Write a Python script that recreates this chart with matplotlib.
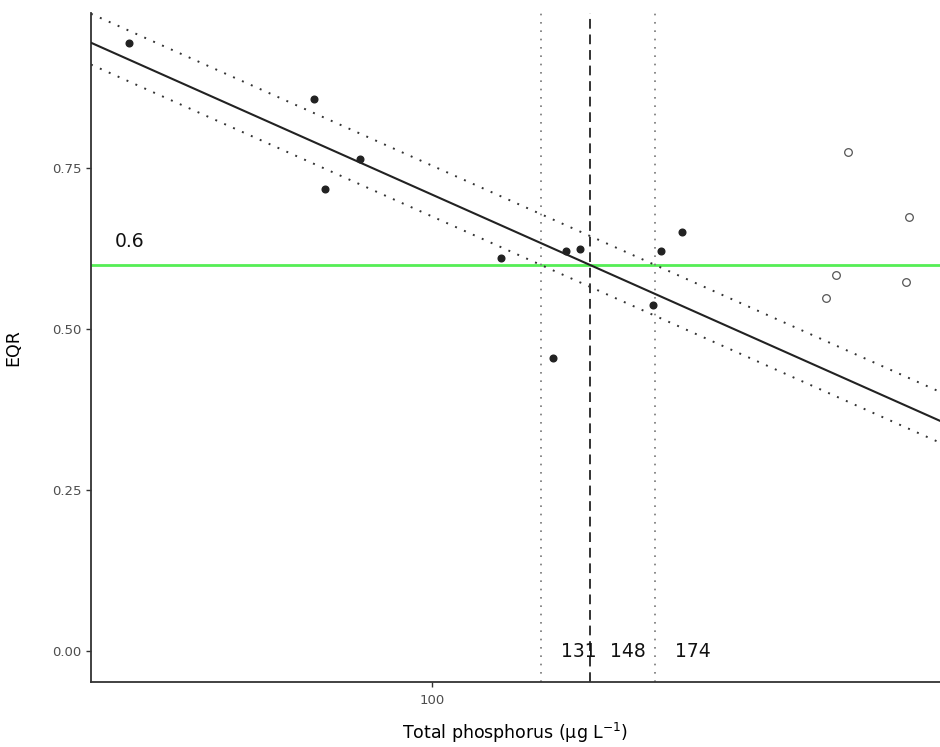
import numpy as np
import matplotlib
matplotlib.use('Agg')
import matplotlib.pyplot as plt

# Sites used in the fit (filled) and excluded sites (open)
tp_fit = [47.0, 74.6, 76.7, 83.5, 118.7, 135.1, 139.7, 144.4, 173.4, 176.7, 186.3]
eqr_fit = [0.944, 0.857, 0.717, 0.764, 0.611, 0.455, 0.621, 0.624, 0.537, 0.621, 0.651]
tp_out = [266.4, 273.6, 281.6, 325.4, 327.9]
eqr_out = [0.549, 0.584, 0.775, 0.573, 0.674]

# Good/moderate boundary and the TP values where fit and band reach it
eqr_boundary = 0.6
tp_boundary = 148
tp_lower, tp_upper = 131, 174
slope = -0.64          # EQR change per decade of TP

x_min, x_max = 42.8, 354.0
y_min, y_max = -0.048, 0.991

fig = plt.figure(figsize=(9.4, 7.47), dpi=100)
ax = fig.add_axes([0.0968, 0.087, 0.9032, 0.8956])

ax.set_xscale('log')
ax.set_xlim(x_min, x_max)
ax.set_ylim(y_min, y_max)

# regression line and band, each passing through the boundary at its TP value
xs = np.array([x_min, x_max])
for tp0, ls, lw, col in [(tp_boundary, '-', 1.5, '#222222'),
                          (tp_lower, (0, (1, 4)), 1.4, '#333333'),
                          (tp_upper, (0, (1, 4)), 1.4, '#333333')]:
    ys = eqr_boundary + slope * (np.log10(xs) - np.log10(tp0))
    ax.plot(xs, ys, linestyle=ls, lw=lw, color=col, zorder=3)

ax.axhline(eqr_boundary, color='#55EE55', lw=2, zorder=2)

ax.axvline(tp_boundary, color='#333333', lw=1.4, linestyle=(0, (5, 3)), zorder=2)
ax.axvline(tp_lower, color='#777777', lw=1.2, linestyle=(0, (1, 4)), zorder=2)
ax.axvline(tp_upper, color='#777777', lw=1.2, linestyle=(0, (1, 4)), zorder=2)

ax.plot(tp_fit, eqr_fit, 'o', ms=4.8, color='#222222', mec='#222222', zorder=4)
ax.plot(tp_out, eqr_out, 'o', ms=5.5, mfc='white', mec='#555555', mew=0.9, zorder=4)

# labels
ax.text(47.1, eqr_boundary + 0.036, f'{eqr_boundary:g}', fontsize=13.5,
        ha='center', va='center', color='#111111')
for tp in [tp_lower, tp_boundary, tp_upper]:
    ax.text(tp * 1.1, 0.0, f'{tp}', fontsize=13.5, ha='center', va='center',
            color='#111111')

ax.set_yticks([0.0, 0.25, 0.5, 0.75])
ax.set_yticklabels(['0.00', '0.25', '0.50', '0.75'])
ax.set_xticks([100])
ax.set_xticklabels(['100'])
ax.minorticks_off()

ax.tick_params(axis='both', labelsize=9.5, labelcolor='#4D4D4D', color='#333333',
               length=3.5, width=1)
ax.tick_params(axis='x', pad=5)
for side in ['top', 'right']:
    ax.spines[side].set_visible(False)
for side in ['left', 'bottom']:
    ax.spines[side].set_color('#333333')
    ax.spines[side].set_linewidth(1.3)

ax.set_xlabel(r'Total phosphorus ($\mathrm{\mu}$g L$^{-1}$)', fontsize=12.5, labelpad=10)
ax.set_ylabel('EQR', fontsize=12.5, labelpad=21)

fig.savefig('out.png', dpi=100)
